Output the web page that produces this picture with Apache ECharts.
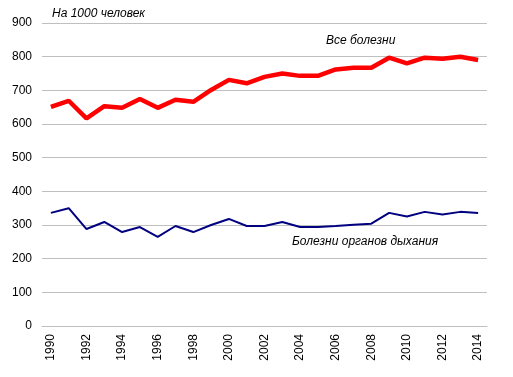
<!DOCTYPE html>
<html>
<head>
<meta charset="utf-8">
<script src="https://cdn.jsdelivr.net/npm/echarts@6/dist/echarts.min.js"></script>
<style>
  html, body { margin: 0; padding: 0; background: #fff; }
  #chart { width: 513px; height: 377px; }
</style>
</head>
<body>
<div id="chart"></div>
<script>
// years on the x axis
var years = [];
for (var y = 1990; y <= 2014; y++) years.push(String(y));

// все болезни, на 1000 человек
var allDiseases = [651, 669, 617, 653, 648, 674, 648, 672, 666, 701, 731, 721, 740, 750, 743,
  743, 762, 767, 767, 797, 780, 797, 794, 800, 790];

// болезни органов дыхания
var respiratory = [336, 350, 288, 309, 279, 294, 265, 297, 279, 300, 318, 297, 297, 309, 294,
  294, 297, 301, 304, 336, 325, 339, 331, 339, 336];

var FONT = 'Liberation Sans, Arial, sans-serif';

var chart = echarts.init(document.getElementById('chart'));

var option = {
  animation: false,
  grid: { left: 42, right: 26, top: 23, bottom: 51 },
  xAxis: {
    type: 'category',
    data: years,
    boundaryGap: true,
    axisLine: { show: true, lineStyle: { color: '#bfbfbf', width: 1 } },
    axisTick: { show: false },
    axisLabel: {
      interval: 1,
      rotate: 90,
      color: '#000',
      fontFamily: FONT,
      fontSize: 12,
      margin: 8
    }
  },
  yAxis: {
    type: 'value',
    min: 0,
    max: 900,
    interval: 100,
    axisLine: { show: false },
    axisTick: { show: false },
    axisLabel: { color: '#000', fontFamily: FONT, fontSize: 12, margin: 10 },
    splitLine: { lineStyle: { color: '#bfbfbf', width: 1 } }
  },
  series: [
    {
      name: 'Все болезни',
      type: 'line',
      data: allDiseases,
      symbol: 'none',
      lineStyle: { color: '#ff0000', width: 4.5 }
    },
    {
      name: 'Болезни органов дыхания',
      type: 'line',
      data: respiratory,
      symbol: 'none',
      lineStyle: { color: '#000080', width: 2 }
    }
  ],
  graphic: [
    {
      type: 'text', left: 52, top: 8,
      style: { text: 'На 1000 человек', fontFamily: FONT, fontSize: 12, fontStyle: 'italic', fill: '#000' }
    },
    {
      type: 'text', left: 326, top: 35,
      style: { text: 'Все болезни', fontFamily: FONT, fontSize: 12, fontStyle: 'italic', fill: '#000' }
    },
    {
      type: 'text', left: 292, top: 236,
      style: { text: 'Болезни органов дыхания', fontFamily: FONT, fontSize: 12, fontStyle: 'italic', fill: '#000' }
    }
  ]
};

chart.setOption(option);
</script>
</body>
</html>
